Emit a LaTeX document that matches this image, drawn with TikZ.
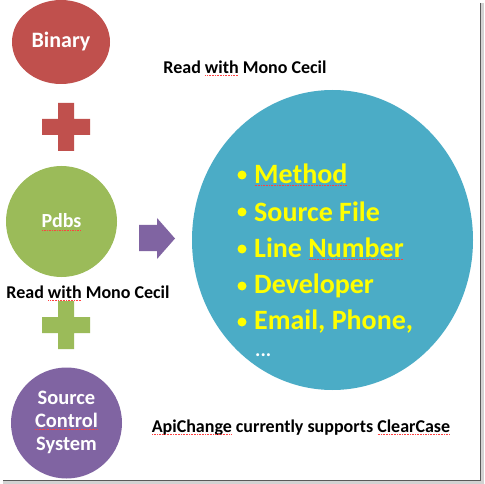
\documentclass[tikz,border=0pt]{standalone}
\usepackage{fontspec}
\setmainfont{Carlito}
\definecolor{ored}{HTML}{C0504D}
\definecolor{ogreen}{HTML}{9BBB59}
\definecolor{opurple}{HTML}{8064A2}
\definecolor{oblue}{HTML}{4BACC6}
\definecolor{oyellow}{HTML}{FFFF00}
\newcommand\spellmark[1]{\setbox0\hbox{#1}\rlap{\copy0}\raisebox{-2.2pt}{\textcolor{red!75}{\hbox to\wd0{\xleaders\hbox to 1.6pt{\hss\rule{0.9pt}{0.6pt}\hss}\hfill}}}}
\begin{document}
\begin{tikzpicture}[x=1pt,y=-1pt,
  lbl/.style={font=\bfseries\fontsize{20}{23}\selectfont,text=white,align=center,inner sep=0pt},
  captext/.style={font=\bfseries\fontsize{18}{21}\selectfont,text=black,inner sep=0pt},
  item/.style={font=\bfseries\fontsize{28}{31}\selectfont,text=oyellow,anchor=west,inner sep=0pt},
  bul/.style={circle,fill=oyellow,inner sep=0pt,minimum size=9pt}]
\useasboundingbox (0,0) rectangle (485,484);
\fill[white] (0,0) rectangle (480,480);
% frame shadow
\fill[gray!35] (480,3) rectangle (484,484);
\fill[gray!35] (3,480) rectangle (484,484);
\draw[gray!70!black,line width=1pt] (480,3) -- (480,480) -- (3,480);
% shapes
\fill[ored] (61,42) ellipse [x radius=49, y radius=42];
\node[lbl,font=\bfseries\fontsize{22}{25}\selectfont] (bin) at (61,42) {Binary};
\fill[ored] (58,103) -- (74,103) -- (74,119) -- (90,119) -- (90,135) -- (74,135) -- (74,151) -- (58,151) -- (58,135) -- (42,135) -- (42,119) -- (58,119) -- cycle;
\fill[ogreen] (61.5,221.5) circle (55.5);
\node[lbl] (pdb) at (61.5,222) {\spellmark{Pdbs}};
\fill[ogreen] (58,301) -- (74,301) -- (74,317) -- (90,317) -- (90,333) -- (74,333) -- (74,349) -- (58,349) -- (58,333) -- (42,333) -- (42,317) -- (58,317) -- cycle;
\fill[opurple] (66.5,423) circle (55.5);
\node[lbl,font=\bfseries\fontsize{20.5}{23}\selectfont] (scs) at (66.5,422) {Source\\\spellmark{Control}\\System};
\fill[opurple] (139,225) -- (157,225) -- (157,218) -- (175,238.5) -- (157,259) -- (157,251) -- (139,251) -- cycle;
\fill[oblue] (332.5,240) ellipse [x radius=140.5, y radius=150];
% captions
\node[captext] (c1) at (245,68) {Read \spellmark{with} Mono Cecil};
\node[captext] (c2) at (88,293) {Read \spellmark{with} Mono Cecil};
\node[captext] (c3) at (301,428) {\spellmark{ApiChange} currently supports \spellmark{ClearCase}};
% list
\foreach \t/\yy [count=\i] in {{\spellmark{Method}}/175,Source File/212,{Line \spellmark{Number}}/249,Developer/286,{Email, Phone,}/322}{
  \node[bul] (b\i) at (242,\yy) {};
  \node[item] (t\i) at (254,\yy) {\t};
}
\node[item,text=white,font=\bfseries\fontsize{20}{23}\selectfont] (t6) at (255,355) {...};
\end{tikzpicture}
\end{document}
